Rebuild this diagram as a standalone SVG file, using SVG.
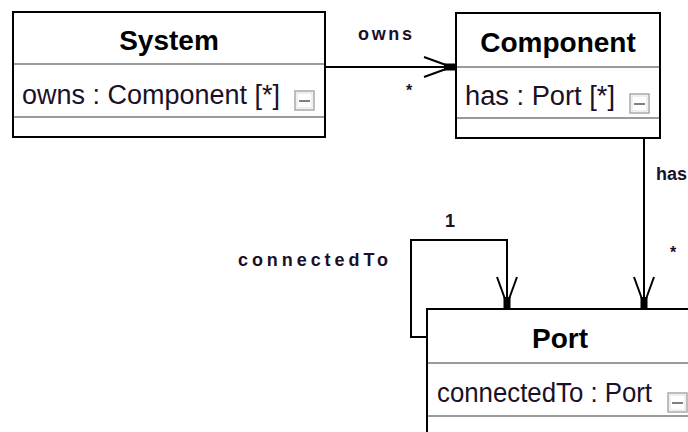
<svg xmlns="http://www.w3.org/2000/svg" xmlns:xlink="http://www.w3.org/1999/xlink" width="688" height="432" viewBox="0 0 688 432">
<style>
.box{fill:#fff;stroke:#000;stroke-width:2}
.div{stroke:#9a9a9a;stroke-width:2}
.title{font-family:"Liberation Sans",Arial,sans-serif;font-weight:bold;font-size:28px;fill:#000;text-anchor:middle}
.attr{font-family:"Liberation Sans",Arial,sans-serif;font-size:27px;fill:#1a1028}
.lbl{font-family:"Liberation Sans",Arial,sans-serif;font-size:18px;font-weight:bold;fill:#1a1028}
.mult{font-family:"Liberation Sans",Arial,sans-serif;font-size:16px;font-weight:bold;fill:#1a1028}
.conn{fill:none;stroke:#000;stroke-width:2}
.mb{fill:#fff;stroke:#a8a8a8;stroke-width:1.5}
.mbi{fill:none;stroke:#e0e0e0;stroke-width:1}
.ml{stroke:#808080;stroke-width:2}
</style>
<defs>
<g id="arr">
<path d="M-10,-32 L-2,-10 M10,-32 L2,-10" fill="none" stroke="#000" stroke-width="2"/>
<rect x="-3.5" y="-12" width="7" height="12" fill="#000"/>
</g>
<g id="minus">
<rect class="mb" x="0" y="0" width="19" height="19"/>
<rect class="mbi" x="2" y="2" width="15" height="15"/>
<line class="ml" x1="4" y1="10" x2="15" y2="10"/>
</g>
</defs>

<g id="connectors">
<g id="owns-edge">
<line class="conn" x1="325" y1="67" x2="452" y2="67"/>
<use xlink:href="#arr" href="#arr" transform="translate(456,67) rotate(-90)"/>
<text class="lbl" x="358" y="40" textLength="54" lengthAdjust="spacing">owns</text>
<text class="mult" x="406" y="96">*</text>
</g>
<g id="has-edge">
<line class="conn" x1="644" y1="138" x2="644" y2="305"/>
<use xlink:href="#arr" href="#arr" transform="translate(644,309)"/>
<text class="lbl" x="656" y="180" textLength="31" lengthAdjust="spacingAndGlyphs">has</text>
<text class="mult" x="670" y="258">*</text>
</g>
<g id="connectedTo-edge">
<path class="conn" d="M427,337 H411 V240 H507 V305"/>
<use xlink:href="#arr" href="#arr" transform="translate(507,309)"/>
<text class="lbl" x="238" y="266" textLength="150" lengthAdjust="spacing">connectedTo</text>
<text class="lbl" x="445" y="227">1</text>
</g>
</g>

<g id="System">
<rect class="box" x="13" y="12" width="312" height="125"/>
<line class="div" x1="14" y1="64" x2="324" y2="64"/>
<line class="div" x1="14" y1="117" x2="324" y2="117"/>
<text class="title" x="169" y="50">System</text>
<text class="attr" x="22" y="104" textLength="258" lengthAdjust="spacingAndGlyphs">owns : Component [*]</text>
<use xlink:href="#minus" href="#minus" transform="translate(295,91)"/>
</g>

<g id="Component">
<rect class="box" x="456" y="13" width="204" height="125"/>
<line class="div" x1="457" y1="67" x2="659" y2="67"/>
<line class="div" x1="457" y1="118" x2="659" y2="118"/>
<text class="title" x="558" y="52">Component</text>
<text class="attr" x="465" y="105" textLength="150" lengthAdjust="spacingAndGlyphs">has : Port [*]</text>
<use xlink:href="#minus" href="#minus" transform="translate(630,94)"/>
</g>

<g id="Port">
<rect class="box" x="427" y="309" width="300" height="160"/>
<line class="div" x1="428" y1="363" x2="726" y2="363"/>
<line class="div" x1="428" y1="416" x2="726" y2="416"/>
<text class="title" x="560" y="348">Port</text>
<text class="attr" x="437" y="402" textLength="215" lengthAdjust="spacingAndGlyphs">connectedTo : Port</text>
<use xlink:href="#minus" href="#minus" transform="translate(668,393)"/>
</g>
</svg>
